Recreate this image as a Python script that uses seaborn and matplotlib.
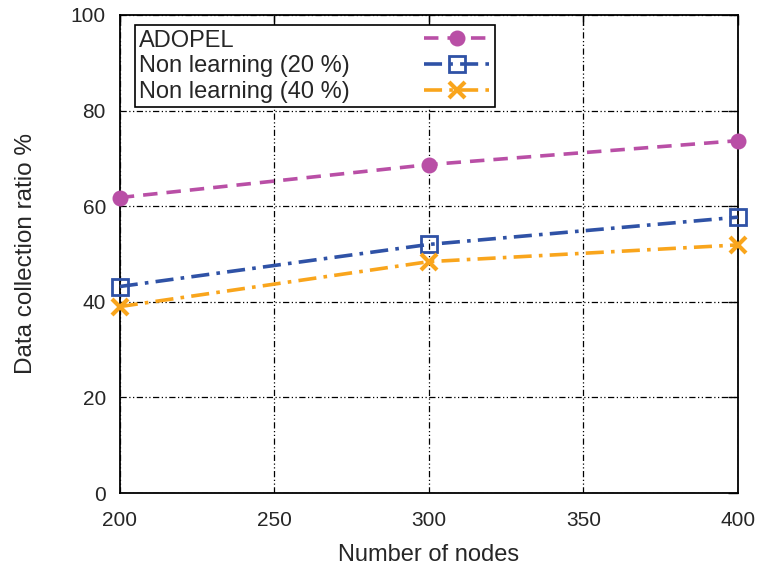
import numpy as np
import pandas as pd
import matplotlib
matplotlib.use("Agg")
import matplotlib.pyplot as plt
import seaborn as sns

# data
nodes = [200, 300, 400]
adopel = [61.8, 68.7, 73.7]
non_learning_20 = [43.2, 52.0, 57.7]
non_learning_40 = [39.0, 48.4, 51.9]

series_names = ["ADOPEL", "Non learning (20 %)", "Non learning (40 %)"]
series_values = [adopel, non_learning_20, non_learning_40]

x_ticks = [200, 250, 300, 350, 400]
y_ticks = [0, 20, 40, 60, 80, 100]

sns.set_style("white")
plt.rcParams["font.family"] = ["Liberation Sans", "DejaVu Sans"]
plt.rcParams["font.size"] = 15

colors = ["#b94fa6", "#2f52a6", "#f9a51c"]
markers = ["o", "s", "x"]
linestyles = [(0, (4, 2.5)), (0, (5, 2, 1, 2)), (0, (5, 2, 1, 2))]
msizes = [10, 11, 11]
mfaces = [colors[0], "none", colors[2]]
mews = [1.5, 2.0, 3.0]

fig = plt.figure(figsize=(7.63, 5.74), dpi=100)
ax = fig.add_axes([0.157, 0.141, 0.810, 0.833])

for name, vals, c, m, ls, ms, mf, mew in zip(series_names, series_values, colors,
                                              markers, linestyles, msizes, mfaces, mews):
    df = pd.DataFrame({"nodes": nodes, "ratio": vals})
    sns.lineplot(data=df, x="nodes", y="ratio", ax=ax, color=c, label=name,
                 marker=m, markersize=ms, markerfacecolor=mf,
                 markeredgecolor=c, markeredgewidth=mew,
                 linestyle=ls, linewidth=2.6, clip_on=False, zorder=3)

ax.set_xlim(200, 400)
ax.set_ylim(0, 100)
ax.set_xticks(x_ticks)
ax.set_yticks(y_ticks)
ax.set_xlabel("Number of nodes", fontsize=17, labelpad=10)
ax.set_ylabel("Data collection ratio %", fontsize=17.5, labelpad=24)
ax.tick_params(direction="in", length=7, width=1, top=True, right=True,
               labelsize=15, color="black")
ax.tick_params(axis="x", pad=13)
ax.tick_params(axis="y", pad=10)
ax.grid(True, color="black", linestyle=(0, (5, 2, 1, 2, 1, 2)), linewidth=0.9)
ax.set_axisbelow(True)
for sp in ax.spines.values():
    sp.set_visible(True)
    sp.set_color("black")
    sp.set_linewidth(1.3)

leg = ax.legend(loc="upper left", bbox_to_anchor=(0.024, 0.979), markerfirst=False,
                handlelength=2.8, handletextpad=1.0, borderpad=0.2,
                labelspacing=0.15, fancybox=False, framealpha=1,
                edgecolor="black", fontsize=17, borderaxespad=0)
leg.get_frame().set_linewidth(1.2)
leg.set_zorder(5)

# gnuplot keeps labels left-aligned and samples at the right: stretch row gaps
fig.canvas.draw()
renderer = fig.canvas.get_renderer()
widths = [t.get_window_extent(renderer).width for t in leg.get_texts()]
target = max(widths) + 74
rows = leg._legend_handle_box.get_children()[0].get_children()
for row, w in zip(rows, widths):
    row.sep = (target - w) * 72.0 / fig.dpi

fig.savefig("out.png", dpi=100)
